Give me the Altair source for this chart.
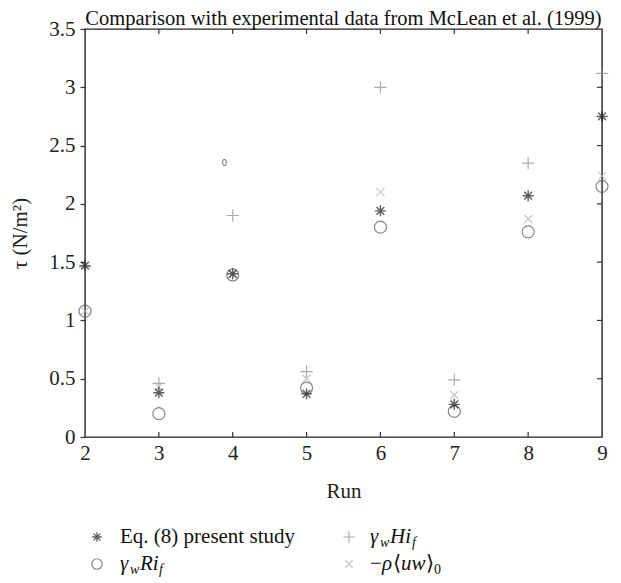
import altair as alt
import pandas as pd

# ---- data ----
runs = [2, 3, 4, 5, 6, 7, 8, 9]
eq8_present = [1.47, 0.38, 1.40, 0.37, 1.94, 0.28, 2.07, 2.75]
gw_ri = [1.08, 0.20, 1.39, 0.42, 1.80, 0.22, 1.76, 2.15]
gw_hi = [1.46, 0.46, 1.90, 0.56, 3.00, 0.49, 2.35, 3.12]
rho_uw = [1.08, 0.43, 1.40, 0.50, 2.10, 0.36, 1.87, 2.24]

x_tick_values = [2, 3, 4, 5, 6, 7, 8, 9]
y_tick_values = [0, 0.5, 1, 1.5, 2, 2.5, 3, 3.5]
x_inner_ticks = [3, 4, 5, 6, 7, 8]
y_inner_ticks = [0.5, 1, 1.5, 2, 2.5, 3]

stray_label = ["0"]
stray_run = [3.886]
stray_tau = [2.354]

title_text = "Comparison with experimental data from McLean et al. (1999)"
legend_eq8 = "Eq. (8) present study"

# ---- styling ----
SERIF = "Liberation Serif"
FS = 21
W, H = 517, 408
STAR = "M-1,0L1,0M0,-1L0,1M-0.71,-0.71L0.71,0.71M-0.71,0.71L0.71,-0.71"
PLUS = "M-1,0L1,0M0,-1L0,1"
CROSS = "M-1,-1L1,1M-1,1L1,-1"

C_STAR, C_CIRC, C_PLUS, C_CROSS = "#1a1a1a", "#555555", "#8a8a8a", "#b0b0b0"

xs = alt.Scale(domain=[2, 9], nice=False, zero=False)
ys = alt.Scale(domain=[0, 3.5], nice=False, zero=False)
xaxis = alt.Axis(values=x_tick_values, tickSize=0, labelPadding=5, domain=False,
                 grid=False, title="Run", titlePadding=17, labelFlush=False, format="d",
                 labelFont=SERIF, labelFontSize=FS, titleFont=SERIF, titleFontSize=FS)
yaxis = alt.Axis(values=y_tick_values, tickSize=5, labelPadding=5, domain=False,
                 grid=False, title="τ (N/m²)", titlePadding=18, labelFlush=False,
                 format="~g", labelFont=SERIF, labelFontSize=FS, titleFont=SERIF,
                 titleFontSize=FS)


def X(f):
    return alt.X(f, type="quantitative", scale=xs, axis=xaxis)


def Y(f):
    return alt.Y(f, type="quantitative", scale=ys, axis=yaxis)


df = pd.DataFrame({"run": runs, "eq8": eq8_present, "ri": gw_ri,
                   "hi": gw_hi, "uw": rho_uw})
base = alt.Chart(df)

circ = base.mark_point(shape="circle", filled=False, size=144, strokeWidth=1.2,
                       color=C_CIRC).encode(x=X("run"), y=Y("ri"))
plus = base.mark_point(shape=PLUS, filled=False, size=150, strokeWidth=1.2,
                       color=C_PLUS).encode(x=X("run"), y=Y("hi"))
cross = base.mark_point(shape=CROSS, filled=False, size=64, strokeWidth=1.2,
                        color=C_CROSS).encode(x=X("run"), y=Y("uw"))
star = base.mark_point(shape=STAR, filled=False, size=121, strokeWidth=1.4,
                       color=C_STAR).encode(x=X("run"), y=Y("eq8"))

stray = alt.Chart(pd.DataFrame({"t": stray_label, "r": stray_run, "v": stray_tau})).mark_text(
    font="DejaVu Sans", fontSize=9, color="#666666", fill="#666666").encode(
    x=X("r"), y=Y("v"), text="t:N")

tick_style = dict(color="#333", strokeWidth=1.2)
xt = alt.Chart(pd.DataFrame({"run": x_inner_ticks}))
top_ticks = xt.mark_rule(**tick_style).encode(x=X("run"), y=alt.value(0), y2=alt.value(5))
bot_ticks = xt.mark_rule(**tick_style).encode(x=X("run"), y=alt.value(H - 5), y2=alt.value(H))
yt = alt.Chart(pd.DataFrame({"ri": y_inner_ticks}))
right_ticks = yt.mark_rule(**tick_style).encode(y=Y("ri"), x=alt.value(W - 5), x2=alt.value(W))

one = alt.Data(values=[{"a": 1}])


def txt(s, x, y, size=FS, italic=False, color="#111", align="left", baseline="middle"):
    return alt.Chart(one).mark_text(text=s, font=SERIF, fontSize=size,
                                    fontStyle="italic" if italic else "normal",
                                    align=align, baseline=baseline, color=color).encode(
        x=alt.value(x), y=alt.value(y))


def sym(shape, x, y, size, color, sw=1.2):
    return alt.Chart(one).mark_point(shape=shape, filled=False, size=size,
                                     strokeWidth=sw, color=color).encode(
        x=alt.value(x), y=alt.value(y))


title = txt(title_text, W / 2, -20, size=20.5, align="center", baseline="top")

R1, R2 = 508, 535
LX1, LT1 = 12, 35
LX2, LT2 = 264, 285
SUB = 14
SD = 6
legend = [
    sym(STAR, LX1, R1, 90, C_STAR, 1.3),
    txt(legend_eq8, LT1, R1),
    sym("circle", LX1, R2, 110, C_CIRC),
    txt("γ", LT1, R2, italic=True),
    txt("w", LT1 + 10, R2 + SD, size=SUB, italic=True),
    txt("Ri", LT1 + 20, R2, italic=True),
    txt("f", LT1 + 39, R2 + SD, size=SUB, italic=True),
    sym(PLUS, LX2, R1, 130, C_PLUS),
    txt("γ", LT2, R1, italic=True),
    txt("w", LT2 + 10, R1 + SD, size=SUB, italic=True),
    txt("Hi", LT2 + 20, R1, italic=True),
    txt("f", LT2 + 42, R1 + SD, size=SUB, italic=True),
    sym(CROSS, LX2, R2, 56, C_CROSS),
    txt("−", LT2, R2),
    txt("ρ", LT2 + 12, R2, italic=True),
    txt("⟨", LT2 + 23, R2),
    txt("uw", LT2 + 31, R2, italic=True),
    txt("⟩", LT2 + 56, R2),
    txt("0", LT2 + 64, R2 + SD, size=SUB),
]

chart = alt.layer(circ, plus, cross, star, stray, top_ticks, bot_ticks, right_ticks,
                  title, *legend).properties(
    width=W, height=H,
    autosize=alt.AutoSizeParams(type="none"),
    padding={"left": 77, "top": 21, "right": 11, "bottom": 145},
).configure_view(stroke="#222", strokeWidth=1.4).configure_axis(
    grid=False, labelFont=SERIF, labelFontSize=FS, labelColor="#222",
    titleFont=SERIF, titleFontSize=FS, titleFontWeight="normal", titleColor="#222",
    tickColor="#333", tickWidth=1.2)

chart.save("out.html", embed_options={"renderer": "svg", "actions": False})
